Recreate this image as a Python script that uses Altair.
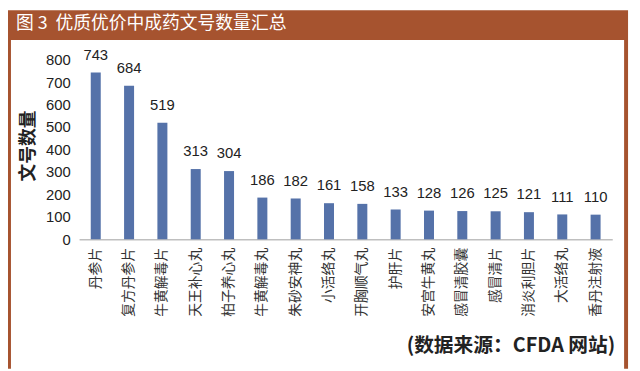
import altair as alt
import pandas as pd

categories = ["丹参片", "复方丹参片", "牛黄解毒片", "天王补心丸", "柏子养心丸", "牛黄解毒丸",
              "朱砂安神丸", "小活络丸", "开胸顺气丸", "护肝片", "安宫牛黄丸", "感冒清胶囊",
              "感冒清片", "消炎利胆片", "大活络丸", "香丹注射液"]
counts = [743, 684, 519, 313, 304, 186, 182, 161, 158, 133, 128, 126, 125, 121, 111, 110]
y_ticks = [0, 100, 200, 300, 400, 500, 600, 700, 800]

title_text = "图\u00a03\u00a0\u00a0优质优价中成药文号数量汇总"
source_text = "(数据来源：CFDA\u00a0网站)"
y_title = "文号数量"

BROWN = "#A6532F"
BAR = "#5572A9"
NUMFONT = "Liberation Sans, Noto Sans CJK SC"
CJK = "Noto Sans CJK SC"

df = pd.DataFrame({"cat": categories, "n": counts})
one = pd.DataFrame({"k": [0]})

x_enc = alt.X("cat:N", sort=None, title=None,
              scale=alt.Scale(paddingInner=0.7, paddingOuter=0.35),
              axis=alt.Axis(labelAngle=-90, labelFont=CJK, labelFontSize=14,
                            labelColor="#333333", ticks=False, domainColor="#bfbfbf",
                            domainWidth=1.5, labelPadding=8, labelOverlap=False))
y_enc = alt.Y("n:Q", title=y_title,
              scale=alt.Scale(domain=[0, 800], nice=False),
              axis=alt.Axis(values=y_ticks, grid=False, domain=False, ticks=False,
                            labelOverlap=False,
                            labelFont=NUMFONT, labelFontSize=15, labelColor="#222222",
                            labelPadding=9, titleFont=CJK, titleFontSize=18,
                            titleFontWeight="bold", titleColor="#222222",
                            titleAngle=-90, titleX=-51, titleY=87,
                            titleAlign="center", titleBaseline="middle"))

base = alt.Chart(df).encode(x=x_enc, y=y_enc)
bars = base.mark_bar(color=BAR)
labels = base.mark_text(font=NUMFONT, fontSize=15, color="#222222",
                        baseline="alphabetic", dy=-13).encode(text=alt.Text("n:Q"))

title_bar = alt.Chart(one).mark_rect(color=BROWN).encode(
    x=alt.value(-72), x2=alt.value(556), y=alt.value(-50), y2=alt.value(-20))
left_border = alt.Chart(one).mark_rect(color=BROWN).encode(
    x=alt.value(-72), x2=alt.value(-69), y=alt.value(-20), y2=alt.value(313))
right_border = alt.Chart(one).mark_rect(color=BROWN).encode(
    x=alt.value(552), x2=alt.value(556), y=alt.value(-20), y2=alt.value(313))
title_mark = alt.Chart(one).mark_text(font=CJK, fontSize=18, color="white",
                                      align="left", baseline="middle").encode(
    x=alt.value(-64), y=alt.value(-36), text=alt.value(title_text))
source_mark = alt.Chart(one).mark_text(font=CJK, fontSize=20, fontWeight="bold",
                                       color="#222222", align="right",
                                       baseline="middle").encode(
    x=alt.value(543), y=alt.value(290), text=alt.value(source_text))

chart = alt.layer(title_bar, left_border, right_border, bars, labels,
                  title_mark, source_mark).properties(
    width=540, height=182,
    autosize=alt.AutoSizeParams(type="none"),
    padding={"left": 72, "top": 50, "right": 20, "bottom": 131},
    background="white",
).configure_view(stroke=None)

chart.save("out.html", embed_options={"renderer": "svg", "actions": False})
